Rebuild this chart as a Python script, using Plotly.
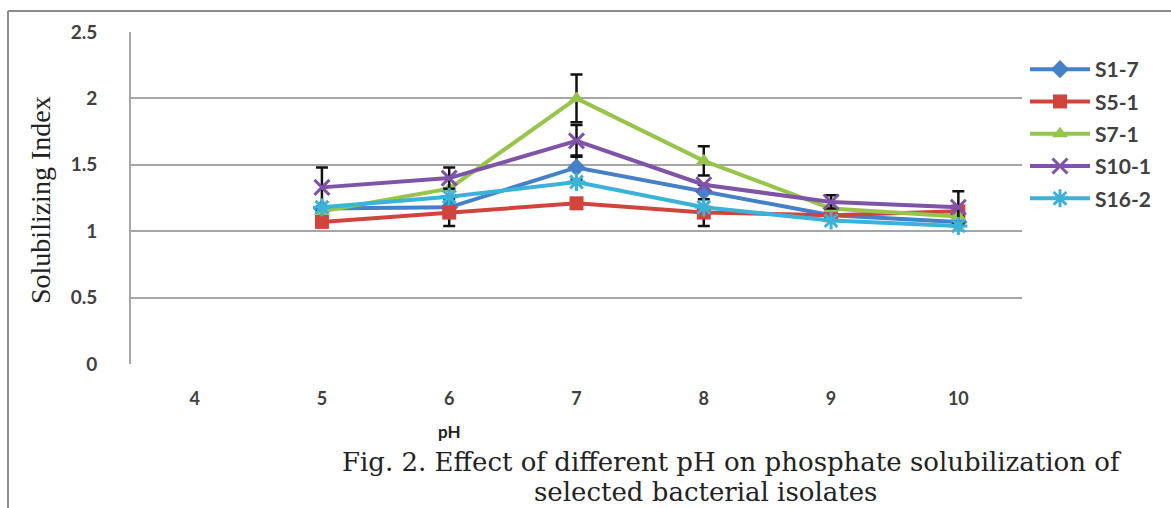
import plotly.graph_objects as go

ph_labels = ["4", "5", "6", "7", "8", "9", "10"]

s1_7 = [None, 1.17, 1.18, 1.48, 1.30, 1.12, 1.07]
s5_1 = [None, 1.07, 1.14, 1.21, 1.14, 1.12, 1.15]
s7_1 = [None, 1.15, 1.32, 2.00, 1.53, 1.17, 1.11]
s10_1 = [None, 1.33, 1.40, 1.68, 1.35, 1.22, 1.18]
s16_2 = [None, 1.18, 1.26, 1.37, 1.18, 1.08, 1.04]

err_s1_7 = [None, None, None, 0.09, None, None, None]
err_s5_1 = [None, None, 0.10, None, 0.10, None, None]
err_s7_1 = [None, None, None, 0.18, 0.11, None, None]
err_s10_1 = [None, 0.15, 0.08, 0.12, None, 0.05, 0.12]
err_s16_2 = [None, None, None, None, None, None, None]

series = [
    ("S1-7", s1_7, err_s1_7, "#4580C8", "diamond", 14),
    ("S5-1", s5_1, err_s5_1, "#D0443D", "square", 14),
    ("S7-1", s7_1, err_s7_1, "#97C44A", "triangle-up", 14),
    ("S10-1", s10_1, err_s10_1, "#7E53A8", "x-thin", 15),
    ("S16-2", s16_2, err_s16_2, "#3DB2D8", "asterisk", 15),
]

fig = go.Figure()
for i, (name, vals, errs, color, sym, size) in enumerate(series):
    fig.add_trace(go.Scatter(
        x=ph_labels, y=vals, name=name, mode="lines+markers",
        legendgroup=name,
        line=dict(color=color, width=4),
        marker=dict(symbol=sym, size=size, color=color,
                    line=dict(color=color, width=3 if sym in ("x-thin", "asterisk") else 0)),
        error_y=dict(type="data", array=errs, visible=True, color="#111111",
                     thickness=2.5, width=6),
        connectgaps=False,
    ))

L, R, T, B = 131, 1022, 32, 364
W, H = 1171, 508
pw, ph = R - L, B - T

def px(x):
    return (x - L) / pw

def py(y):
    return (B - y) / ph

fig.update_layout(
    width=W, height=H,
    margin=dict(l=L, r=W - R, t=T, b=H - B, pad=0),
    paper_bgcolor="white", plot_bgcolor="white",
    showlegend=True,
    legend=dict(x=px(1025), y=py(49), xanchor="left", yanchor="top",
                font=dict(family="Lato", size=21, color="#404040", weight="bold"),
                itemwidth=60, tracegroupgap=2, bgcolor="rgba(0,0,0,0)"),
    xaxis=dict(type="category", range=[-0.5, 6.5], showgrid=False,
               showline=False, zeroline=False, ticks="",
               tickfont=dict(family="Lato", size=18, color="#404040", weight="bold"),
               ticklabelstandoff=22),
    yaxis=dict(range=[0, 2.5], dtick=0.5, showgrid=True, gridcolor="#A6A6A6",
               gridwidth=2, zeroline=False, showline=True, linecolor="#A6A6A6",
               linewidth=2, ticks="",
               tickfont=dict(family="Lato", size=19, color="#404040", weight="bold"),
               ticklabelstandoff=28),
)

# outer frame: left and top edges only (rest is cut off)
fig.add_shape(type="line", xref="paper", yref="paper",
              x0=px(8), x1=px(8), y0=py(600), y1=py(11),
              line=dict(color="#8C8C8C", width=2), layer="below")
fig.add_shape(type="line", xref="paper", yref="paper",
              x0=px(8), x1=px(1400), y0=py(11), y1=py(11),
              line=dict(color="#8C8C8C", width=2), layer="below")

fig.add_annotation(text="Solubilizing Index", xref="paper", yref="paper",
                   x=px(40), y=py(200), xanchor="center", yanchor="middle",
                   textangle=-90, showarrow=False,
                   font=dict(family="Liberation Serif", size=28, color="#222222"))
fig.add_annotation(text="<b>pH</b>", xref="paper", yref="paper",
                   x=px(449), y=py(432), xanchor="center", yanchor="middle",
                   showarrow=False,
                   font=dict(family="Lato", size=17, color="#222222"))
fig.add_annotation(text="Fig. 2. Effect of different pH on phosphate solubilization of",
                   xref="paper", yref="paper", x=px(340), y=py(462),
                   xanchor="left", yanchor="middle", showarrow=False,
                   font=dict(family="DejaVu Serif", size=26, color="#222222"))
fig.add_annotation(text="selected bacterial isolates",
                   xref="paper", yref="paper", x=px(705), y=py(492),
                   xanchor="center", yanchor="middle", showarrow=False,
                   font=dict(family="DejaVu Serif", size=26, color="#222222"))

fig.write_html("out.html")
